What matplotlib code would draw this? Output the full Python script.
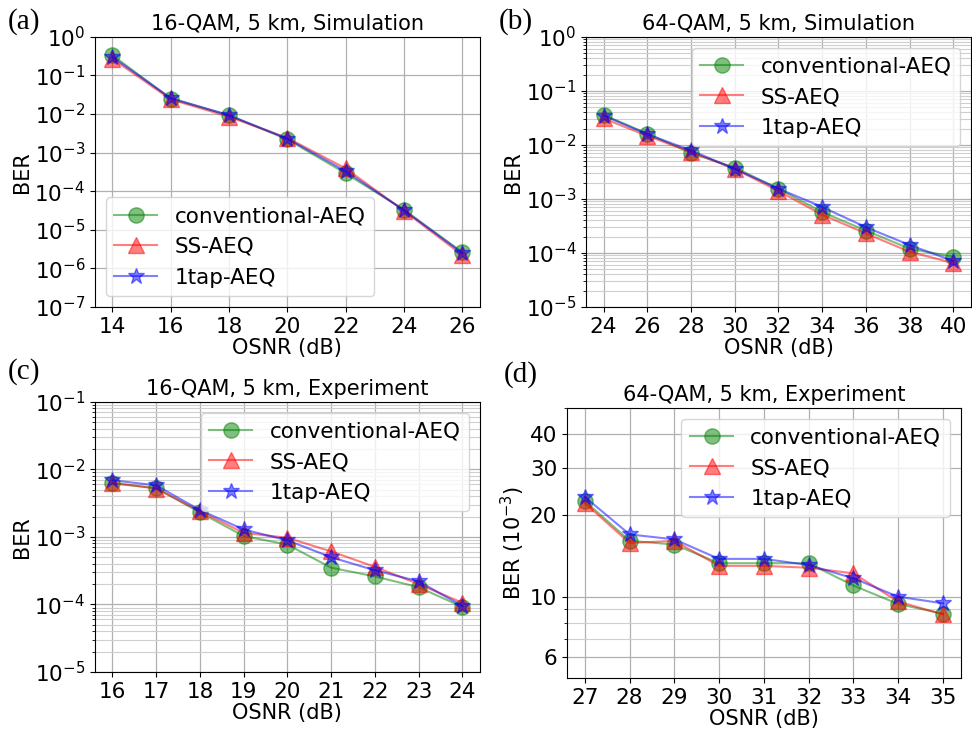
import numpy as np
import matplotlib
matplotlib.use("Agg")
import matplotlib.pyplot as plt
from matplotlib.ticker import FixedLocator, NullFormatter, ScalarFormatter

plt.rcParams['font.family'] = 'DejaVu Sans'
plt.rcParams['font.size'] = 15

labels = ['conventional-AEQ', 'SS-AEQ', '1tap-AEQ']

# (a) 16-QAM, simulation
osnr_a = [14, 16, 18, 20, 22, 24, 26]
conv_a = [0.335, 0.025, 0.0093, 0.0022, 2.9e-4, 3.3e-5, 2.6e-6]
ss_a = [0.27, 0.024, 0.0085, 0.0024, 3.9e-4, 3.1e-5, 2.2e-6]
tap_a = [0.30, 0.026, 0.0093, 0.0023, 3.3e-4, 3.2e-5, 2.5e-6]

# (b) 64-QAM, simulation
osnr_b = [24, 26, 28, 30, 32, 34, 36, 38, 40]
conv_b = [0.036, 0.0162, 0.0071, 0.0038, 0.00155, 5.7e-4, 2.6e-4, 1.2e-4, 8.5e-5]
ss_b = [0.031, 0.0147, 0.0074, 0.0036, 0.0014, 5.1e-4, 2.3e-4, 1.05e-4, 6.5e-5]
tap_b = [0.035, 0.0158, 0.0079, 0.0036, 0.00155, 7.1e-4, 3.0e-4, 1.4e-4, 7.1e-5]

# (c) 16-QAM, experiment
osnr_c = [16, 17, 18, 19, 20, 21, 22, 23, 24]
conv_c = [6.2e-3, 5.3e-3, 2.3e-3, 1.03e-3, 7.7e-4, 3.5e-4, 2.6e-4, 1.8e-4, 9.2e-5]
ss_c = [6.35e-3, 5.2e-3, 2.4e-3, 1.15e-3, 9.7e-4, 6.1e-4, 3.6e-4, 2.0e-4, 1.06e-4]
tap_c = [6.9e-3, 5.8e-3, 2.5e-3, 1.29e-3, 8.9e-4, 5.0e-4, 3.2e-4, 2.2e-4, 9.5e-5]

# (d) 64-QAM, experiment, BER in units of 1e-3
osnr_d = [27, 28, 29, 30, 31, 32, 33, 34, 35]
conv_d = [22.6, 16.1, 15.6, 13.3, 13.3, 13.3, 11.0, 9.4, 8.65]
ss_d = [22.2, 15.8, 16.1, 13.0, 13.0, 12.8, 12.2, 9.6, 8.6]
tap_d = [23.4, 17.0, 16.3, 13.8, 13.8, 13.1, 11.7, 10.0, 9.45]


def draw(ax, x, series, title, legend_loc):
    styles = [('g', 'o'), ('r', '^'), ('b', '*')]
    for (c, m), y, lab in zip(styles, series, labels):
        ax.plot(x, y, color=c, marker=m, markersize=11 if m != '*' else 12,
                alpha=0.5, linewidth=1.5, label=lab)
    ax.set_yscale('log')
    ax.set_xticks(x)
    ax.tick_params(labelsize=15.5)
    ax.set_xlabel('OSNR (dB)', labelpad=1)
    ax.set_title(title, fontsize=15, pad=5)
    ax.grid(True, which='major', color='#b0b0b0', linewidth=0.9)
    ax.grid(True, which='minor', color='#cfcfcf', linewidth=0.8)
    ax.legend(loc=legend_loc, fontsize=15.5, framealpha=0.8)


fig = plt.figure(figsize=(9.72, 7.32), dpi=100)

ax_a = fig.add_axes([0.0977, 0.5806, 0.396, 0.369])
draw(ax_a, osnr_a, [conv_a, ss_a, tap_a], '16-QAM, 5 km, Simulation', 'lower left')
ax_a.set_ylim(1e-7, 1)
ax_a.set_yticks([10.0 ** k for k in range(-7, 1)])
ax_a.set_ylabel('BER', labelpad=2)

ax_b = fig.add_axes([0.6029, 0.5806, 0.396, 0.369])
draw(ax_b, osnr_b, [conv_b, ss_b, tap_b], '64-QAM, 5 km, Simulation', 'upper right')
ax_b.set_ylim(1e-5, 1)
ax_b.set_yticks([10.0 ** k for k in range(-5, 1)])
ax_b.set_ylabel('BER', labelpad=2)

ax_c = fig.add_axes([0.0977, 0.082, 0.396, 0.369])
draw(ax_c, osnr_c, [conv_c, ss_c, tap_c], '16-QAM, 5 km, Experiment', 'upper right')
ax_c.set_ylim(1e-5, 1e-1)
ax_c.set_yticks([10.0 ** k for k in range(-5, 0)])
ax_c.set_ylabel('BER', labelpad=2)

ax_d = fig.add_axes([0.5833, 0.0738, 0.405, 0.369])
draw(ax_d, osnr_d, [conv_d, ss_d, tap_d], '64-QAM, 5 km, Experiment', 'upper right')
ax_d.set_ylim(5, 50)
ax_d.yaxis.set_major_locator(FixedLocator([6, 10, 20, 30, 40]))
ax_d.yaxis.set_major_formatter(ScalarFormatter())
ax_d.yaxis.set_minor_locator(FixedLocator([7, 8, 9, 50]))
ax_d.yaxis.set_minor_formatter(NullFormatter())
ax_d.set_ylabel('BER (10$^{-3}$)', labelpad=2)

for txt, (fx, fy) in zip(['(a)', '(b)', '(c)', '(d)'],
                         [(0.008, 0.97), (0.513, 0.97), (0.008, 0.492), (0.518, 0.488)]):
    fig.text(fx, fy, txt, family='Liberation Serif', fontsize=21, va='center', ha='left')

fig.savefig('out.png', dpi=100)
